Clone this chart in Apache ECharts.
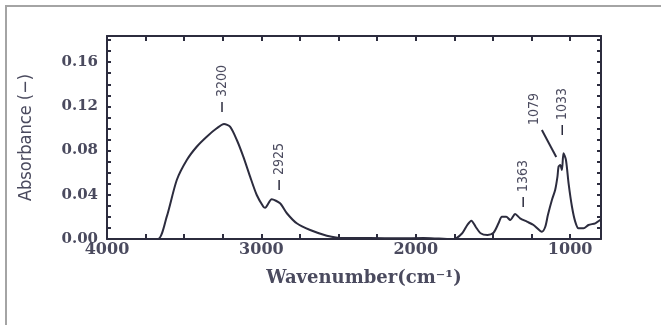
<!DOCTYPE html>
<html>
<head>
<meta charset="utf-8">
<script src="https://cdn.jsdelivr.net/npm/echarts@6/dist/echarts.min.js"></script>
<style>
  html, body { margin: 0; padding: 0; background: #ffffff; overflow: hidden; }
  #frame { position: absolute; left: 5px; top: 5px; width: 700px; height: 400px; border: 2px solid #a4a4a4; box-sizing: border-box; }
  #chart { position: absolute; left: 0; top: 0; width: 661px; height: 325px; }
</style>
</head>
<body>
<div id="frame"></div>
<div id="chart"></div>
<script>
// ---- data ----
const wavenumber = [4000, 3800, 3670, 3613, 3548, 3483, 3419, 3354, 3289, 3242, 3203, 3159, 3117, 3073, 3030, 2987, 2976, 2933, 2879, 2835, 2771, 2684, 2576, 2469, 2300, 2100, 1950, 1850, 1753, 1699, 1666, 1640, 1612, 1580, 1536, 1496, 1464, 1442, 1414, 1388, 1356, 1324, 1280, 1237, 1183, 1161, 1144, 1118, 1097, 1082, 1075, 1064, 1053, 1043, 1027, 1010, 988, 967, 946, 913, 881, 837, 805, 800];
const absorbance = [0, 0, 0, 0.0202, 0.0534, 0.0715, 0.0835, 0.0926, 0.1002, 0.1041, 0.1016, 0.0896, 0.0745, 0.0564, 0.0398, 0.0292, 0.0283, 0.0359, 0.0323, 0.0233, 0.0142, 0.0081, 0.0030, 0.0008, 0.0008, 0.0006, 0.0008, 0.0004, 0, 0.0052, 0.0127, 0.0166, 0.0111, 0.0052, 0.0036, 0.0057, 0.0142, 0.0202, 0.0202, 0.0172, 0.0226, 0.0187, 0.0157, 0.0127, 0.0066, 0.0111, 0.0217, 0.0353, 0.0443, 0.0564, 0.0654, 0.0670, 0.0624, 0.0776, 0.0715, 0.0504, 0.0292, 0.0157, 0.0097, 0.0097, 0.0127, 0.0142, 0.0172, 0.0178];

// peak annotations: text, wavenumber of label, absorbance at label foot
const annoText = ['3200', '2925', '1363', '1079', '1033'];
const annoWave = [3255, 2885, 1304, 1233, 1051];
const annoLevel = [0.1285, 0.0579, 0.0425, 0.1032, 0.1077];
// leader line for 1079 (from, to) in data units
const leaderFrom = [1183, 0.0986];
const leaderTo = [1090, 0.0742];

// axes
const xMin = 800, xMax = 4000;
const yMin = 0, yMax = 0.1837;
const xLabelValues = [1000, 2000, 3000, 4000];
const xTickValues = [1000, 1250, 1500, 1750, 2000, 2250, 2500, 2750, 3000, 3250, 3500, 3750, 4000];
const yLabelValues = [0, 0.04, 0.08, 0.12, 0.16];
const yTickValues = [0, 0.01, 0.02, 0.03, 0.04, 0.05, 0.06, 0.07, 0.08, 0.09, 0.10, 0.11, 0.12, 0.13, 0.14, 0.15, 0.16, 0.17, 0.18];

const lineColor = '#2c2c3e';
const textColor = '#4a4a5e';

const spectrum = wavenumber.map((w, i) => [w, absorbance[i]]);
const annoData = annoText.map((t, i) => [annoWave[i], annoLevel[i], i]);

const chart = echarts.init(document.getElementById('chart'), null, { renderer: 'canvas' });

function xAxisBase(pos, showLabel) {
  return {
    type: 'value', position: pos, inverse: true, min: xMin, max: xMax,
    axisLine: { show: true, onZero: false, lineStyle: { color: lineColor, width: 2 } },
    axisTick: { show: true, inside: true, length: 5, customValues: xTickValues, lineStyle: { color: lineColor, width: 2 } },
    axisLabel: {
      show: showLabel, customValues: xLabelValues, margin: 3,
      formatter: v => String(v),
      color: textColor, fontFamily: 'DejaVu Serif', fontWeight: 'bold', fontSize: 16
    },
    splitLine: { show: false }
  };
}
function yAxisBase(pos, showLabel) {
  return {
    type: 'value', position: pos, min: yMin, max: yMax,
    axisLine: { show: true, onZero: false, lineStyle: { color: lineColor, width: 2 } },
    axisTick: { show: true, inside: true, length: 4, customValues: yTickValues, lineStyle: { color: lineColor, width: 2 } },
    axisLabel: {
      show: showLabel, customValues: yLabelValues, margin: 9,
      formatter: v => v.toFixed(2),
      color: textColor, fontFamily: 'DejaVu Serif', fontWeight: 'bold', fontSize: 15
    },
    splitLine: { show: false }
  };
}

const xBottom = xAxisBase('bottom', true);
xBottom.name = 'Wavenumber(cm\u207B\u00B9)';
xBottom.nameLocation = 'middle';
xBottom.nameGap = 30;
xBottom.nameTextStyle = { color: textColor, fontFamily: 'DejaVu Serif', fontWeight: 'bold', fontSize: 18, padding: [0, 0, 0, 20] };

const yLeft = yAxisBase('left', true);
yLeft.name = 'Absorbance (\u2212)';
yLeft.nameLocation = 'middle';
yLeft.nameGap = 72;
yLeft.nameTextStyle = { color: textColor, fontFamily: 'DejaVu Sans Condensed', fontSize: 18 };

chart.setOption({
  animation: false,
  backgroundColor: 'transparent',
  grid: { left: 107, right: 60, top: 36, bottom: 86 },
  xAxis: [xBottom, xAxisBase('top', false)],
  yAxis: [yLeft, yAxisBase('right', false)],
  series: [
    {
      type: 'line', xAxisIndex: 0, yAxisIndex: 0,
      data: spectrum, showSymbol: false, smooth: 0.25,
      lineStyle: { color: lineColor, width: 2 }
    },
    {
      type: 'custom', xAxisIndex: 0, yAxisIndex: 0,
      data: annoData,
      renderItem: function (params, api) {
        const idx = api.value(2);
        const p = api.coord([api.value(0), api.value(1)]);
        const children = [{
          type: 'text',
          x: p[0], y: p[1],
          rotation: Math.PI / 2,
          style: {
            text: annoText[idx], x: 0, y: 0,
            align: 'left', verticalAlign: 'middle',
            fill: textColor, font: '14px "DejaVu Sans Condensed"'
          }
        }];
        if (annoText[idx] === '1079') {
          const a = api.coord(leaderFrom), b = api.coord(leaderTo);
          children.push({ type: 'line', shape: { x1: a[0], y1: a[1], x2: b[0], y2: b[1] }, style: { stroke: lineColor, lineWidth: 2 } });
        } else {
          children.push({ type: 'line', shape: { x1: p[0], y1: p[1] + 5, x2: p[0], y2: p[1] + 15 }, style: { stroke: lineColor, lineWidth: 1.5 } });
        }
        return { type: 'group', children: children };
      }
    }
  ]
});
</script>
</body>
</html>
